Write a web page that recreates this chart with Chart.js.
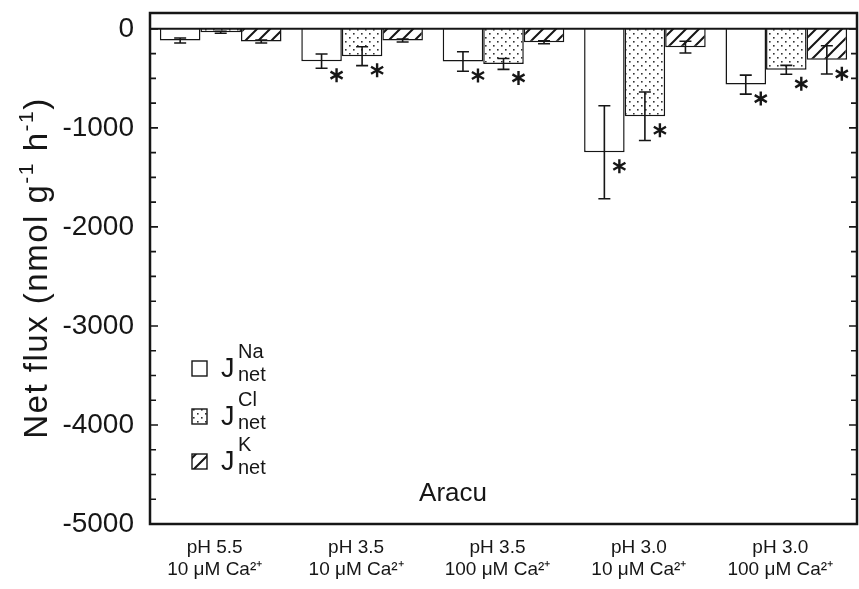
<!DOCTYPE html>
<html>
<head>
<meta charset="utf-8">
<script src="https://cdn.jsdelivr.net/npm/chart.js@4.4.1/dist/chart.umd.min.js"></script>
<style>
  html, body { margin: 0; padding: 0; background: #fff; }
  #wrap { width: 859px; height: 589px; position: relative; }
</style>
</head>
<body>
<div id="wrap"><canvas id="fluxChart"></canvas></div>
<script>
// Data (nmol g-1 h-1)
const categories = [
    ['pH 5.5', '10 μM Ca²⁺'],
    ['pH 3.5', '10 μM Ca²⁺'],
    ['pH 3.5', '100 μM Ca²⁺'],
    ['pH 3.0', '10 μM Ca²⁺'],
    ['pH 3.0', '100 μM Ca²⁺']
];
const naFlux = [-118, -326, -330, -1246, -563];
const naErr = [25, 72, 98, 470, 96];
const clFlux = [-35, -276, -354, -882, -414];
const clErr = [10, 95, 55, 245, 45];
const kFlux = [-128, -118, -135, -185, -313];
const kErr = [15, 15, 15, 59, 143];
// significance stars
const naSig = [false, true, true, true, true];
const clSig = [false, true, true, true, true];
const kSig = [false, false, false, false, true];
const yTicks = [0, -1000, -2000, -3000, -4000, -5000];
const legendNames = ['Na', 'Cl', 'K'];
const panelLabel = 'Aracu';

const INK = '#161616';
const FONT = "'Liberation Sans', Arial, sans-serif";

function makeDots() {
    const c = document.createElement('canvas');
    c.width = 8; c.height = 8;
    const g = c.getContext('2d');
    g.fillStyle = '#fff';
    g.fillRect(0, 0, 8, 8);
    g.fillStyle = '#333';
    g.fillRect(1, 1, 1.6, 1.6);
    g.fillRect(5, 5, 1.6, 1.6);
    return g.createPattern(c, 'repeat');
}

function makeHatch() {
    const c = document.createElement('canvas');
    c.width = 13; c.height = 13;
    const g = c.getContext('2d');
    g.fillStyle = '#fff';
    g.fillRect(0, 0, 13, 13);
    g.strokeStyle = INK;
    g.lineWidth = 2;
    g.beginPath();
    g.moveTo(-2, 15); g.lineTo(15, -2);
    g.moveTo(-2, 2); g.lineTo(2, -2);
    g.moveTo(11, 15); g.lineTo(15, 11);
    g.stroke();
    return g.createPattern(c, 'repeat');
}

const dotFill = makeDots();
const hatchFill = makeHatch();
const fills = ['#fff', dotFill, hatchFill];
const errs = [naErr, clErr, kErr];
const sigs = [naSig, clSig, kSig];

const decorPlugin = {
    id: 'decor',
    beforeDraw(chart) {
        const c = chart.ctx;
        c.save();
        c.fillStyle = '#fff';
        c.fillRect(0, 0, chart.width, chart.height);
        c.restore();
    },
    afterDatasetsDraw(chart) {
        const c = chart.ctx;
        const y = chart.scales.y;
        c.save();
        c.strokeStyle = INK;
        chart.data.datasets.forEach((ds, i) => {
            const meta = chart.getDatasetMeta(i);
            meta.data.forEach((bar, j) => {
                const v = ds.data[j];
                const e = errs[i][j];
                const x = bar.x;
                const yHi = y.getPixelForValue(v + e);
                const yLo = y.getPixelForValue(v - e);
                c.lineWidth = 1.6;
                c.beginPath();
                c.moveTo(x, yHi); c.lineTo(x, yLo);
                c.moveTo(x - 6, yHi); c.lineTo(x + 6, yHi);
                c.moveTo(x - 6, yLo); c.lineTo(x + 6, yLo);
                c.stroke();
                if (sigs[i][j]) {
                    const sx = x + 15;
                    const sy = y.getPixelForValue(v) + 14;
                    c.lineWidth = 2.4;
                    c.beginPath();
                    for (let k = 0; k < 3; k++) {
                        const a = Math.PI / 2 + k * Math.PI / 3;
                        c.moveTo(sx + 7 * Math.cos(a), sy + 7 * Math.sin(a));
                        c.lineTo(sx - 7 * Math.cos(a), sy - 7 * Math.sin(a));
                    }
                    c.stroke();
                }
            });
        });
        c.restore();
    },
    afterDraw(chart) {
        const c = chart.ctx;
        const a = chart.chartArea;
        const y = chart.scales.y;
        c.save();
        c.strokeStyle = INK;
        // frame
        c.lineWidth = 2.5;
        c.strokeRect(a.left, a.top, a.right - a.left, a.bottom - a.top);
        // zero line
        const y0 = y.getPixelForValue(0);
        c.lineWidth = 2;
        c.beginPath();
        c.moveTo(a.left, y0); c.lineTo(a.right, y0);
        c.stroke();
        // inward ticks on both sides
        c.lineWidth = 1.6;
        c.beginPath();
        for (let v = 0; v >= -5000; v -= 250) {
            const py = y.getPixelForValue(v);
            const len = v % 1000 === 0 ? 8 : 6;
            c.moveTo(a.left, py); c.lineTo(a.left + len, py);
            c.moveTo(a.right, py); c.lineTo(a.right - len, py);
        }
        c.stroke();

        // y title with superscripts
        c.fillStyle = INK;
        c.textBaseline = 'alphabetic';
        c.letterSpacing = '1.5px';
        const parts = [
            ['Net flux (nmol g', 33, 0],
            ['-1', 21, -14],
            [' h', 33, 0],
            ['-1', 21, -14],
            [')', 33, 0]
        ];
        let total = 0;
        parts.forEach(p => { c.font = p[1] + 'px ' + FONT; total += c.measureText(p[0]).width; });
        c.translate(47, 268);
        c.rotate(-Math.PI / 2);
        let px = -total / 2;
        parts.forEach(p => {
            c.font = p[1] + 'px ' + FONT;
            c.fillText(p[0], px, p[2]);
            px += c.measureText(p[0]).width;
        });
        c.setTransform(1, 0, 0, 1, 0, 0);
        c.letterSpacing = '0px';

        // legend
        const cys = [369, 417, 462];
        legendNames.forEach((name, i) => {
            const cy = cys[i];
            c.fillStyle = fills[i];
            c.fillRect(192, cy - 8, 15, 15);
            c.lineWidth = 1.4;
            c.strokeRect(192, cy - 8, 15, 15);
            c.fillStyle = INK;
            c.font = '27px ' + FONT;
            c.fillText('J', 221, cy + 8);
            c.font = '20px ' + FONT;
            c.fillText(name, 238, cy - 11);
            c.fillText('net', 238, cy + 12);
        });

        // panel label
        c.font = '26px ' + FONT;
        c.textAlign = 'center';
        c.fillText(panelLabel, 453, 501);
        c.restore();
    }
};

const ctx = document.getElementById('fluxChart').getContext('2d');
const chart = new Chart(ctx, {
    type: 'bar',
    data: {
        labels: categories,
        datasets: [{
            label: 'J Na net',
            data: naFlux,
            backgroundColor: fills[0],
            borderColor: INK,
            borderWidth: 1.5
        }, {
            label: 'J Cl net',
            data: clFlux,
            backgroundColor: fills[1],
            borderColor: INK,
            borderWidth: 1.5
        }, {
            label: 'J K net',
            data: kFlux,
            backgroundColor: fills[2],
            borderColor: INK,
            borderWidth: 1.5
        }]
    },
    options: {
        responsive: true,
        maintainAspectRatio: false,
        animation: false,
        layout: { padding: { left: 0, right: 2, top: 13, bottom: 0 } },
        datasets: { bar: { categoryPercentage: 0.86, barPercentage: 1.0 } },
        plugins: {
            legend: { display: false },
            tooltip: { enabled: false }
        },
        scales: {
            x: {
                grid: { display: false },
                border: { display: false },
                ticks: {
                    color: INK,
                    font: { family: FONT, size: 19 },
                    padding: 4,
                    labelOffset: -6,
                    maxRotation: 0,
                    autoSkip: false
                },
                afterFit(scale) { scale.height = 65; }
            },
            y: {
                min: -5000,
                max: 160,
                grid: { display: false },
                border: { display: false },
                afterBuildTicks(scale) {
                    scale.ticks = yTicks.map(v => ({ value: v }));
                },
                ticks: {
                    color: INK,
                    font: { family: FONT, size: 28 },
                    padding: 8,
                    callback: v => String(v)
                },
                afterFit(scale) {
                    scale.width = 150;
                    scale.paddingTop = 0;
                    scale.paddingBottom = 0;
                }
            }
        }
    },
    plugins: [decorPlugin]
});
</script>
</body>
</html>
